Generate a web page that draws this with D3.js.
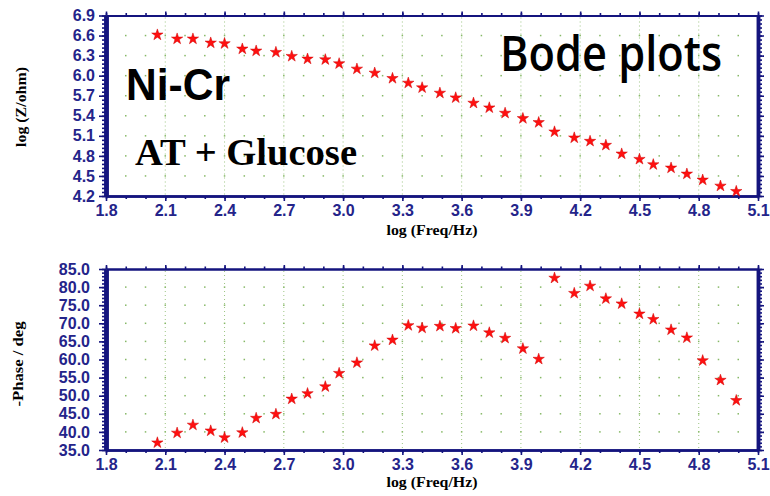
<!DOCTYPE html>
<html><head><meta charset="utf-8">
<script src="https://cdn.jsdelivr.net/npm/d3@7"></script>
<style>body{margin:0;background:#fff}</style>
</head><body><svg id="c" width="770" height="496" style="display:block;background:#fff"></svg>
<script>
const logFreq = [2.06,2.16,2.24,2.33,2.40,2.49,2.56,2.66,2.74,2.82,2.91,2.98,3.07,3.16,3.25,3.33,3.40,3.49,3.57,3.66,3.74,3.82,3.91,3.99,4.07,4.17,4.25,4.33,4.41,4.50,4.57,4.66,4.74,4.82,4.91,4.99];
const logZ = [6.61,6.55,6.55,6.49,6.48,6.40,6.37,6.35,6.29,6.25,6.24,6.18,6.10,6.04,5.96,5.89,5.82,5.74,5.67,5.59,5.52,5.44,5.36,5.30,5.16,5.07,5.02,4.96,4.83,4.75,4.67,4.62,4.53,4.44,4.35,4.27];
const phase = [37.0,39.7,41.9,40.3,38.4,39.8,43.8,44.9,49.1,50.6,52.5,56.2,59.1,63.8,65.4,69.4,68.7,69.2,68.6,69.3,67.4,65.9,63.0,60.1,82.5,78.3,80.3,76.8,75.4,72.6,71.1,68.2,66.0,59.7,54.3,48.7];
const xTicks = [1.8,2.1,2.4,2.7,3.0,3.3,3.6,3.9,4.2,4.5,4.8,5.1];
const zTicks = [4.2,4.5,4.8,5.1,5.4,5.7,6.0,6.3,6.6,6.9];
const phaseTicks = [35,40,45,50,55,60,65,70,75,80,85];

const svg = d3.select('#c');
const navy = '#14147e';
const labelColor = '#24248a';
const gridColor = '#86b866';
const starColor = '#ff1010';
const L = 106, R = 758;

const x = d3.scaleLinear().domain([1.8, 5.1]).range([L, R]);
const xMinor = d3.range(18, 52).map(d => d / 10);

function panel(top, bottom, yDomain, yTicks, yMinorStep, yFmt, values, labelEnd) {
  const y = d3.scaleLinear().domain(yDomain).range([bottom, top]);
  const yMinor = d3.range(Math.round((yDomain[1] - yDomain[0]) / yMinorStep) + 1).map(i => yDomain[0] + i * yMinorStep);
  const g = svg.append('g');

  g.selectAll('line.vg').data(xTicks.slice(1, -1)).join('line')
    .attr('x1', d => x(d)).attr('x2', d => x(d)).attr('y1', top + 2).attr('y2', bottom - 1)
    .attr('stroke', gridColor).attr('stroke-width', 1).attr('stroke-dasharray', '1,3').attr('opacity', 0.8);
  const dots = [];
  xMinor.forEach(xv => { if (xv > 1.85 && xv < 5.05) yTicks.slice(1, -1).forEach(yv => dots.push([xv, yv])); });
  g.selectAll('rect.dot').data(dots).join('rect')
    .attr('x', d => x(d[0]) - 0.75).attr('y', d => y(d[1]) - 0.75).attr('width', 1.5).attr('height', 1.5)
    .attr('fill', gridColor);

  const styleAxis = (sel, w) => {
    sel.select('.domain').attr('stroke', navy).attr('stroke-width', w);
    sel.selectAll('.tick line').attr('stroke', navy).attr('stroke-width', 1.6);
  };
  g.append('g').attr('transform', `translate(${L},0)`)
    .call(d3.axisLeft(y).tickValues(yMinor).tickSize(4).tickSizeOuter(0).tickFormat(''))
    .call(s => styleAxis(s, 4.5));
  const la = g.append('g').attr('transform', `translate(${L},0)`)
    .call(d3.axisLeft(y).tickValues(yTicks).tickSize(7).tickSizeOuter(0).tickFormat(yFmt).tickPadding(labelEnd))
    .call(s => styleAxis(s, 4.5));
  la.selectAll('.tick text').attr('fill', labelColor)
    .attr('font-family', '"Liberation Sans", Arial, sans-serif').attr('font-weight', 'bold').attr('font-size', 16);
  g.append('g').attr('transform', `translate(${R},0)`)
    .call(d3.axisRight(y).tickValues(yMinor).tickSize(4).tickSizeOuter(0).tickFormat(''))
    .call(s => styleAxis(s, 3.5));
  g.append('g').attr('transform', `translate(${R},0)`)
    .call(d3.axisRight(y).tickValues(yTicks).tickSize(6).tickSizeOuter(0).tickFormat(''))
    .call(s => styleAxis(s, 3.5));
  g.append('g').attr('transform', `translate(0,${top})`)
    .call(d3.axisTop(x).tickValues(xMinor).tickSize(2.5).tickSizeOuter(0).tickFormat(''))
    .call(s => styleAxis(s, 2));
  g.append('g').attr('transform', `translate(0,${top})`)
    .call(d3.axisTop(x).tickValues(xTicks).tickSize(4).tickSizeOuter(0).tickFormat(''))
    .call(s => styleAxis(s, 2));
  g.append('g').attr('transform', `translate(0,${bottom})`)
    .call(d3.axisBottom(x).tickValues(xMinor).tickSize(3).tickSizeOuter(0).tickFormat(''))
    .call(s => styleAxis(s, 2.5));
  const ba = g.append('g').attr('transform', `translate(0,${bottom})`)
    .call(d3.axisBottom(x).tickValues(xTicks).tickSize(5).tickSizeOuter(0).tickFormat(d3.format('.1f')).tickPadding(4))
    .call(s => styleAxis(s, 2.5));
  ba.selectAll('.tick text').attr('fill', labelColor)
    .attr('font-family', '"Liberation Sans", Arial, sans-serif').attr('font-weight', 'bold').attr('font-size', 16);

  const star = d3.symbol().type(d3.symbolStar).size(40);
  g.selectAll('path.st').data(logFreq.map((f, i) => [f, values[i]])).join('path')
    .attr('d', star).attr('transform', d => `translate(${x(d[0])},${y(d[1])})`)
    .attr('fill', starColor).attr('stroke', '#d00000').attr('stroke-width', 0.5);
  return y;
}

panel(15.5, 196, [4.2, 6.9], zTicks, 0.06, d3.format('.1f'), logZ, 4);
panel(269, 450, [35, 85], phaseTicks, 1, d3.format('.1f'), phase, 9);

const serif = '"Liberation Serif", "Times New Roman", serif';
const sans = '"Liberation Sans", Arial, sans-serif';

svg.append('text').attr('x', 432).attr('y', 235).attr('text-anchor', 'middle')
  .attr('font-family', serif).attr('font-weight', 'bold').attr('font-size', 14)
  .attr('textLength', 91).attr('lengthAdjust', 'spacingAndGlyphs').text('log (Freq/Hz)');
svg.append('text').attr('x', 432).attr('y', 487).attr('text-anchor', 'middle')
  .attr('font-family', serif).attr('font-weight', 'bold').attr('font-size', 14)
  .attr('textLength', 91).attr('lengthAdjust', 'spacingAndGlyphs').text('log (Freq/Hz)');
svg.append('text').attr('transform', 'translate(26,107) rotate(-90)').attr('text-anchor', 'middle')
  .attr('font-family', serif).attr('font-weight', 'bold').attr('font-size', 14)
  .attr('textLength', 80).attr('lengthAdjust', 'spacingAndGlyphs').text('log (Z/ohm)');
svg.append('text').attr('transform', 'translate(23,364) rotate(-90)').attr('text-anchor', 'middle')
  .attr('font-family', serif).attr('font-weight', 'bold').attr('font-size', 14)
  .attr('textLength', 85).attr('lengthAdjust', 'spacingAndGlyphs').text('-Phase / deg');

svg.append('text').attr('x', 126).attr('y', 100)
  .attr('font-family', sans).attr('font-weight', 'bold').attr('font-size', 44)
  .attr('textLength', 104).attr('lengthAdjust', 'spacingAndGlyphs').attr('fill', '#000').text('Ni-Cr');
svg.append('text').attr('x', 135).attr('y', 165)
  .attr('font-family', serif).attr('font-weight', 'bold').attr('font-size', 37)
  .attr('textLength', 222).attr('lengthAdjust', 'spacingAndGlyphs').attr('fill', '#000').text('AT + Glucose');
svg.append('text').attr('x', 500).attr('y', 71)
  .attr('font-family', '"Open Sans", "Noto Sans", sans-serif').attr('font-weight', 600).attr('font-size', 49)
  .attr('textLength', 222).attr('lengthAdjust', 'spacingAndGlyphs').attr('fill', '#000').text('Bode plots');
</script>
</body></html>
